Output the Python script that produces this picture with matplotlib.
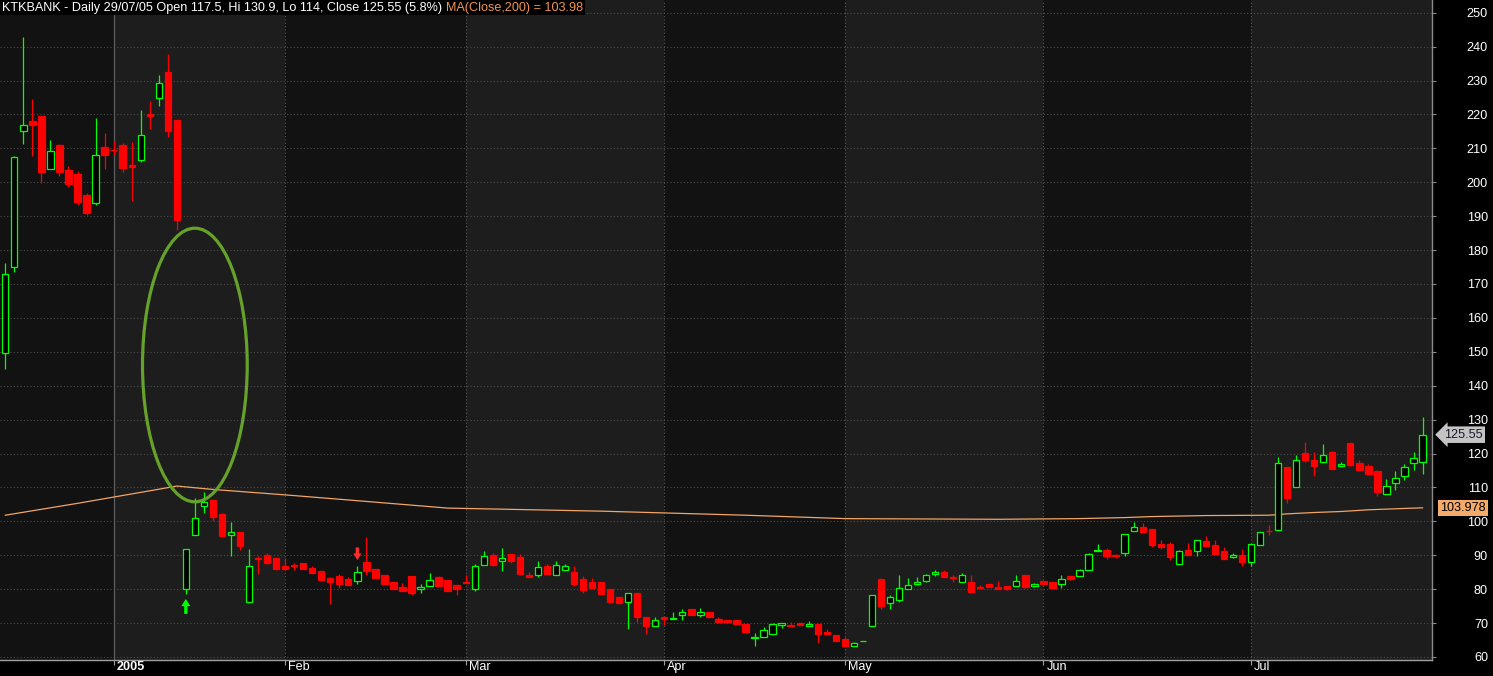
import matplotlib
matplotlib.use("Agg")
import matplotlib.pyplot as plt
from matplotlib.patches import Ellipse, Rectangle, FancyArrow
import matplotlib.transforms as mtransforms

# ---------------- data ----------------
opens = [149.5, 175.1, 215.1, 218.1, 219.6, 203.9, 211.0, 203.7, 202.5, 196.1,
         193.9, 210.5, 209.6, 211.0, 205.0, 206.5, 220.2, 224.7, 232.5, 218.4,
         80.0, 96.1, 104.4, 106.2, 102.2, 96.1, 96.9, 76.1, 89.1, 90.0,
         89.2, 86.9, 87.0, 87.7, 86.3, 85.4, 83.3, 83.9, 83.0, 82.5,
         88.0, 86.0, 84.2, 82.2, 80.7, 83.9, 80.1, 80.8, 83.6, 82.7,
         81.3, 82.2, 79.9, 87.0, 90.2, 88.2, 90.5, 89.6, 84.3, 84.1,
         86.9, 84.1, 85.5, 85.2, 83.1, 82.2, 82.2, 80.1, 77.8, 76.1,
         79.0, 71.9, 69.0, 71.9, 71.2, 72.3, 74.0, 72.3, 73.4, 71.3,
         71.0, 71.0, 69.7, 65.6, 66.0, 66.7, 69.3, 69.5, 70.0, 69.1,
         69.7, 67.4, 66.5, 65.2, 63.3, 64.6, 69.0, 83.1, 75.8, 76.9,
         79.9, 81.4, 82.3, 84.5, 85.1, 83.6, 82.1, 82.1, 80.7, 81.5,
         80.6, 80.9, 81.0, 84.1, 81.0, 82.4, 82.1, 81.6, 83.8, 83.8,
         85.6, 91.1, 91.6, 90.1, 90.8, 97.0, 98.3, 97.7, 93.3, 93.3,
         87.5, 91.6, 91.1, 94.2, 93.0, 91.3, 89.5, 90.1, 88.1, 93.1,
         97.2, 97.4, 116.0, 110.0, 120.1, 118.2, 117.6, 120.4, 116.2, 123.0,
         117.1, 116.2, 114.8, 108.1, 111.2, 113.3, 117.1, 117.5]
highs = [176.3, 207.6, 242.7, 224.6, 219.6, 212.5, 211.4, 204.9, 203.3, 196.7,
         219.0, 214.5, 212.3, 211.6, 212.0, 221.4, 224.0, 231.6, 237.8, 218.4,
         91.8, 106.8, 108.5, 106.2, 102.6, 99.7, 96.9, 91.9, 89.7, 90.6,
         89.2, 89.3, 87.8, 87.7, 86.9, 85.4, 83.7, 84.5, 83.5, 86.9,
         95.4, 86.0, 84.2, 82.2, 81.9, 83.9, 81.6, 84.8, 83.9, 82.7,
         81.3, 84.3, 87.4, 91.3, 90.8, 92.2, 90.5, 90.5, 85.0, 88.4,
         87.5, 88.4, 87.5, 86.9, 84.0, 83.3, 82.2, 80.1, 77.8, 79.0,
         79.0, 71.9, 71.9, 71.9, 73.4, 74.2, 74.0, 74.4, 73.4, 71.9,
         71.0, 71.0, 69.7, 67.1, 68.9, 70.1, 70.0, 70.2, 70.0, 70.6,
         69.7, 68.3, 66.5, 65.8, 64.5, 64.8, 78.2, 83.1, 78.3, 84.2,
         83.3, 83.5, 84.5, 85.7, 85.7, 84.2, 84.8, 84.2, 81.3, 81.5,
         82.4, 80.9, 84.1, 84.1, 81.8, 82.4, 82.1, 84.1, 83.8, 86.0,
         90.7, 93.3, 92.2, 90.4, 96.4, 99.8, 99.5, 97.7, 94.5, 93.8,
         91.6, 93.6, 94.4, 95.7, 94.5, 92.5, 90.7, 91.9, 93.2, 96.8,
         99.0, 119.1, 116.0, 119.5, 123.4, 120.3, 122.7, 120.6, 117.5, 123.0,
         118.0, 116.8, 115.0, 112.5, 114.7, 116.9, 120.3, 130.9]
lows = [144.9, 173.5, 211.3, 207.6, 199.8, 203.9, 201.8, 198.5, 193.2, 190.2,
        193.2, 203.9, 208.0, 203.1, 194.4, 206.1, 215.6, 222.6, 213.2, 185.9,
        78.6, 96.1, 102.6, 100.2, 95.5, 89.9, 91.4, 76.1, 84.5, 87.5,
        86.0, 85.5, 85.5, 85.8, 84.9, 82.5, 75.5, 80.4, 81.3, 81.6,
        84.2, 83.3, 81.6, 80.1, 79.5, 78.3, 78.9, 80.8, 81.0, 79.5,
        78.4, 81.7, 79.4, 87.0, 86.9, 85.4, 87.7, 84.1, 83.5, 83.5,
        84.6, 84.1, 85.5, 80.8, 78.8, 80.4, 78.4, 76.0, 75.7, 68.3,
        70.4, 66.9, 69.0, 69.5, 71.2, 70.8, 72.3, 71.8, 71.7, 70.3,
        70.3, 69.6, 67.2, 63.3, 66.0, 66.7, 68.5, 69.0, 69.3, 69.1,
        64.1, 66.9, 64.8, 62.9, 63.3, 64.6, 69.0, 74.2, 74.2, 76.1,
        79.9, 81.2, 82.1, 84.0, 83.7, 82.1, 82.1, 79.3, 79.9, 80.5,
        79.9, 79.7, 81.0, 80.3, 80.7, 81.5, 80.3, 80.3, 82.7, 83.8,
        85.6, 91.1, 88.9, 89.3, 89.8, 97.0, 96.9, 92.5, 91.9, 88.7,
        87.5, 90.1, 89.8, 92.7, 90.4, 88.9, 89.2, 86.9, 86.9, 93.1,
        96.0, 97.4, 105.5, 110.0, 117.4, 113.4, 117.3, 115.5, 115.9, 116.3,
        115.2, 114.0, 107.5, 108.1, 109.3, 112.3, 115.2, 114.0]
closes = [173.0, 207.5, 216.9, 216.8, 202.9, 209.2, 202.9, 199.6, 194.1, 190.9,
          208.0, 207.9, 209.4, 204.1, 204.6, 213.9, 219.4, 229.2, 215.0, 188.8,
          91.8, 100.9, 105.6, 101.4, 95.7, 96.8, 92.7, 86.8, 88.9, 87.7,
          86.0, 86.0, 86.8, 86.0, 84.9, 82.8, 82.2, 81.6, 81.3, 85.1,
          85.4, 83.3, 81.6, 80.1, 79.5, 78.9, 80.7, 82.7, 81.0, 79.5,
          80.1, 81.7, 86.8, 89.8, 87.2, 89.2, 88.2, 84.6, 83.5, 86.5,
          84.6, 87.1, 86.8, 81.6, 79.6, 80.4, 78.7, 76.3, 76.0, 79.0,
          71.9, 69.0, 71.0, 71.1, 71.6, 73.3, 72.3, 73.3, 71.7, 70.3,
          70.3, 69.6, 67.4, 65.8, 67.9, 69.7, 70.0, 69.0, 69.3, 69.7,
          66.9, 66.9, 64.8, 63.3, 64.0, 64.8, 78.2, 74.9, 77.6, 80.3,
          81.2, 82.1, 84.1, 85.1, 83.7, 83.4, 84.1, 79.3, 80.2, 80.5,
          80.1, 80.0, 82.4, 80.6, 81.4, 81.5, 80.3, 83.1, 83.0, 85.6,
          90.4, 91.6, 89.9, 89.8, 96.2, 98.2, 96.9, 93.0, 92.5, 89.6,
          91.2, 90.1, 94.4, 92.7, 90.4, 88.9, 90.1, 88.0, 93.2, 96.8,
          97.0, 117.1, 107.0, 118.2, 118.0, 116.4, 119.7, 115.5, 116.8, 116.6,
          115.2, 114.0, 108.7, 110.5, 112.9, 116.1, 118.65, 125.55]

month_labels = ["2005", "Feb", "Mar", "Apr", "May", "Jun", "Jul"]
month_start_idx = [12, 31, 51, 73, 93, 115, 138]

ma_idx = [0, 8, 16, 19, 23, 31, 38, 49, 66, 82, 93, 110, 119, 124, 127, 133,
          140, 142, 145, 148, 151, 155, 157]
ma_val = [101.8, 105.3, 109.0, 110.4, 109.4, 107.8, 106.3, 103.9, 103.0, 101.8,
          100.8, 100.6, 100.8, 101.1, 101.4, 101.7, 101.8, 102.2, 102.6, 102.9,
          103.4, 103.8, 103.978]

y_ticks = list(range(60, 251, 10))
title_text = "KTKBANK - Daily 29/07/05 Open 117.5, Hi 130.9, Lo 114, Close 125.55 (5.8%)"
ma_text = "MA(Close,200) = 103.98"

# ---------------- styling ----------------
plt.rcParams['font.family'] = ['Liberation Sans', 'DejaVu Sans']
FS = 9.1
UP = '#00ff00'
DOWN = '#ff0000'
MA_COLOR = '#f2a565'
DARK_BAND = '#121212'
LIGHT_BAND = '#1d1d1d'
GRID = '#4c4c4c'

W, H = 1493, 676
fig = plt.figure(figsize=(W / 100, H / 100), dpi=100, facecolor='black')
ax = fig.add_axes([0, 16 / H, 1432.3 / W, 660 / H])
ax.set_facecolor(DARK_BAND)

n = len(closes)
x0, x1 = -0.587, 158.08
ax.set_xlim(x0, x1)
ax.set_ylim(59.1, 253.75)

# alternating month bands
edges = [x0] + month_start_idx + [x1]
for k in range(len(edges) - 1):
    ax.axvspan(edges[k], edges[k + 1], color=DARK_BAND if k % 2 == 0 else LIGHT_BAND,
               lw=0, zorder=0)

# horizontal grid
for yv in y_ticks:
    ax.axhline(yv, color=GRID, lw=0.8, ls=(0, (1, 2)), zorder=1)

# month separators
for k, xm in enumerate(month_start_idx):
    if k == 0:
        ax.axvline(xm, color='#5e5e5e', lw=0.9, zorder=1)
    else:
        ax.axvline(xm, color='#565656', lw=0.8, ls=(0, (1, 2)), zorder=1)

# MA line
ax.plot(ma_idx, ma_val, color=MA_COLOR, lw=0.9, zorder=2)

# candles
bw = 0.7
for i in range(n):
    o, h, l, c = opens[i], highs[i], lows[i], closes[i]
    up = c >= o
    col = UP if up else DOWN
    ax.vlines(i, l, h, colors=col, lw=0.9, zorder=3)
    bottom = min(o, c)
    height = max(abs(c - o), 0.2)
    ax.add_patch(Rectangle((i - bw / 2, bottom), bw, height,
                           facecolor='black' if up else DOWN,
                           edgecolor=col, lw=0.9, zorder=4))

# signal arrows
ax.add_patch(FancyArrow(20, lows[20] - 5.9, 0, 4.4, width=0.37, head_width=1.0,
                        head_length=2.1, length_includes_head=True,
                        color=UP, lw=0, zorder=5))
ax.add_patch(FancyArrow(39, highs[39] + 5.4, 0, -3.75, width=0.37, head_width=0.9,
                        head_length=2.0, length_includes_head=True,
                        color='#ff2a2a', lw=0, zorder=5))

# annotation ellipse
ax.add_patch(Ellipse((21.0, 146.1), 11.6, 80.7, fill=False, edgecolor='#66a22a',
                     lw=2.3, zorder=6))

# axes / ticks
for s in ['left', 'top']:
    ax.spines[s].set_visible(False)
ax.spines['bottom'].set_color('#a0a0a0')
ax.spines['bottom'].set_linewidth(1.0)
ax.spines['right'].set_color('#8a8a8a')
ax.spines['right'].set_linewidth(1.0)

ax.yaxis.tick_right()
ax.set_yticks(y_ticks)
ax.set_yticklabels([str(v) for v in y_ticks])
ax.tick_params(axis='y', which='both', length=2.9, width=0.8, color='#8a8a8a',
               labelcolor='white', labelsize=FS, pad=37.2)
for lbl in ax.get_yticklabels():
    lbl.set_horizontalalignment('right')

ax.set_xticks(month_start_idx)
ax.set_xticklabels(month_labels)
ax.tick_params(axis='x', length=3.6, width=0.8, color='#a0a0a0',
               labelcolor='white', labelsize=FS, pad=-3.0)
offset = mtransforms.ScaledTranslation(0.03, 0, fig.dpi_scale_trans)
for k, lbl in enumerate(ax.get_xticklabels()):
    lbl.set_horizontalalignment('left')
    lbl.set_transform(lbl.get_transform() + offset)
    if k == 0:
        lbl.set_fontweight('bold')

# last price / MA value tags on the price axis
ax.annotate(f"{closes[-1]:.2f}", xy=(1, closes[-1]), xycoords=('axes fraction', 'data'),
            xytext=(8.5, 0), textcoords='offset points', ha='left', va='center',
            fontsize=FS, color='#1a1a30', annotation_clip=False,
            bbox=dict(boxstyle='larrow,pad=0.18', facecolor='#c4c4c4',
                      edgecolor='none'))
ax.annotate(f"{ma_val[-1]:.3f}", xy=(1, ma_val[-1]), xycoords=('axes fraction', 'data'),
            xytext=(5.5, 0), textcoords='offset points', ha='left', va='center',
            fontsize=FS, color='black', annotation_clip=False,
            bbox=dict(boxstyle='square,pad=0.18', facecolor='#f5aa6a',
                      edgecolor='none'))

# title line
t1 = fig.text(2 / W, 1 - 7.5 / H, title_text, ha='left', va='center', fontsize=FS,
              color='white',
              bbox=dict(boxstyle='square,pad=0.15', facecolor='black', edgecolor='none'))
ax.annotate(ma_text, xy=(1, 0.5), xycoords=t1, xytext=(2.6, 0),
            textcoords='offset points', ha='left', va='center', fontsize=FS,
            color='#ee9455', annotation_clip=False,
            bbox=dict(boxstyle='square,pad=0.15', facecolor='black', edgecolor='none'))

fig.savefig('out.png', dpi=100, facecolor='black')
